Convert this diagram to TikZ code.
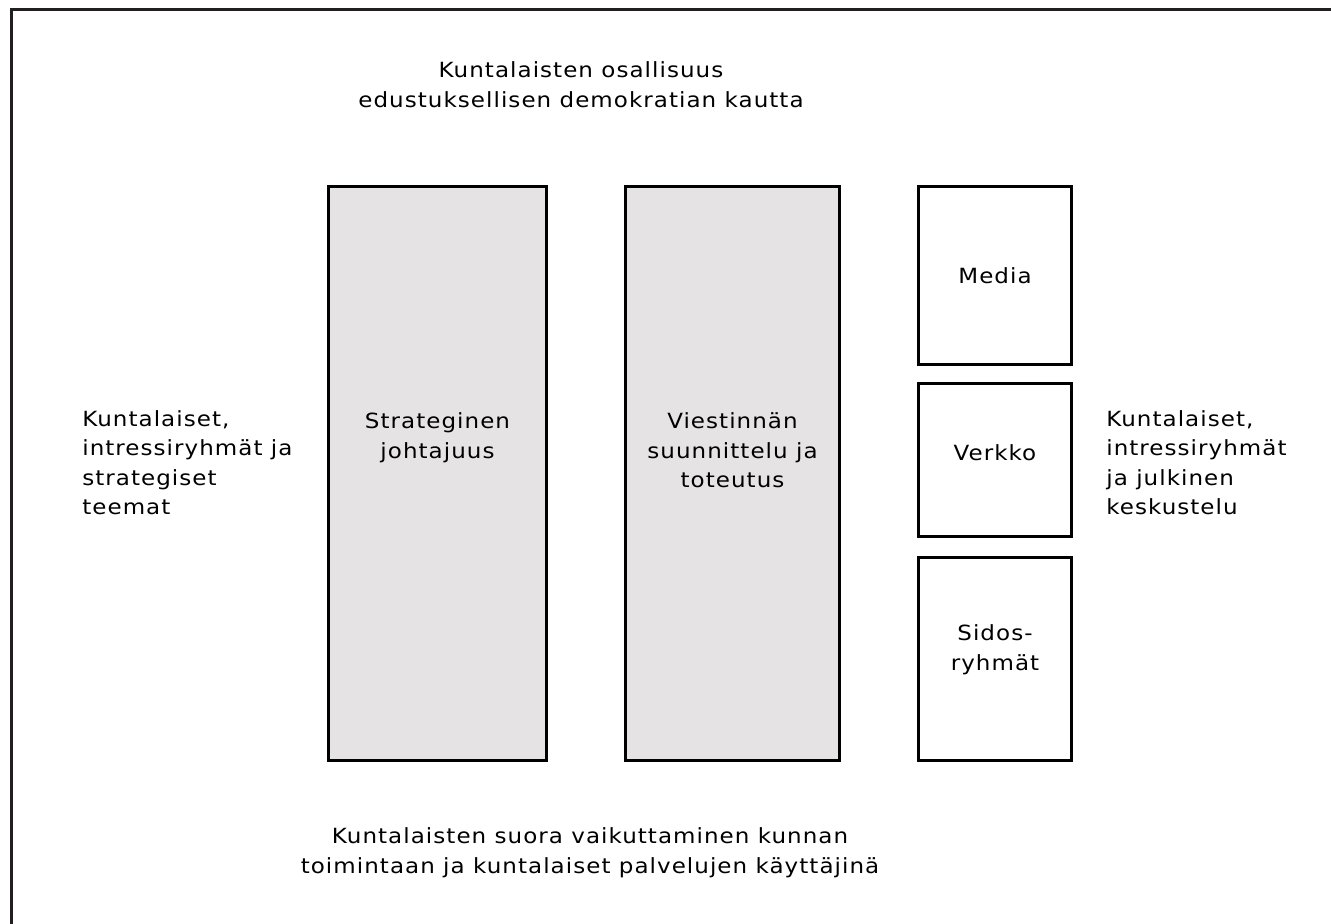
\documentclass[tikz,border=0pt]{standalone}
\usepackage{fontspec}
\setmainfont{DejaVu Sans}[FakeStretch=1.1, LetterSpace=5]
\usetikzlibrary{positioning}
\definecolor{boxgray}{HTML}{E5E3E4}
\definecolor{inkblack}{HTML}{231F20}

\begin{document}
\begin{tikzpicture}[
    every node/.style={font=\fontsize{11.9}{16.8}\selectfont, inner sep=0pt},
    bigbox/.style={draw=black, fill=boxgray, line width=1.9pt},
    smallbox/.style={draw=black, fill=white, line width=1.9pt, minimum width=3.06cm, align=center},
    sidetext/.style={anchor=north west, align=left},
    midtext/.style={anchor=north, align=center}]
    \useasboundingbox (0,0) rectangle (26.62,18.48);
    \draw[color=inkblack, line width=1.9pt] (0.23,-0.2) |- (26.9,18.29);

    \node[bigbox, minimum width=4.36cm, minimum height=11.48cm] (strat) at (8.75,9.01) {};
    \node[bigbox, minimum width=4.28cm, minimum height=11.48cm] (viest) at (14.65,9.01) {};
    \node[midtext, below=4.55 of strat.north] (strattext) {Strateginen\\johtajuus};
    \node[midtext, below=4.55 of viest.north] (viesttext) {Viestinnän\\suunnittelu ja\\toteutus};

    \node[smallbox, minimum height=3.56cm] (media) at (19.9,12.97) {Media};
    \node[smallbox, minimum height=3.06cm, text depth=0.28cm] (verkko) at (19.9,9.28) {Verkko};
    \node[smallbox, minimum height=4.06cm, text depth=0.45cm] (sidos) at (19.9,5.30) {Sidos-\\ryhmät};

    \node[midtext] (ylaosa) at (11.62,17.25) {Kuntalaisten osallisuus\\edustuksellisen demokratian kautta};
    \node[midtext] (alaosa) at (11.8,1.93) {Kuntalaisten suora vaikuttaminen kunnan\\toimintaan ja kuntalaiset palvelujen käyttäjinä};
    \node[sidetext] (vasen) at (1.64,10.28) {Kuntalaiset,\\intressiryhmät ja\\strategiset\\teemat};
    \node[sidetext] (oikea) at (22.12,10.28) {Kuntalaiset,\\intressiryhmät\\ja julkinen\\keskustelu};
\end{tikzpicture}
\end{document}
